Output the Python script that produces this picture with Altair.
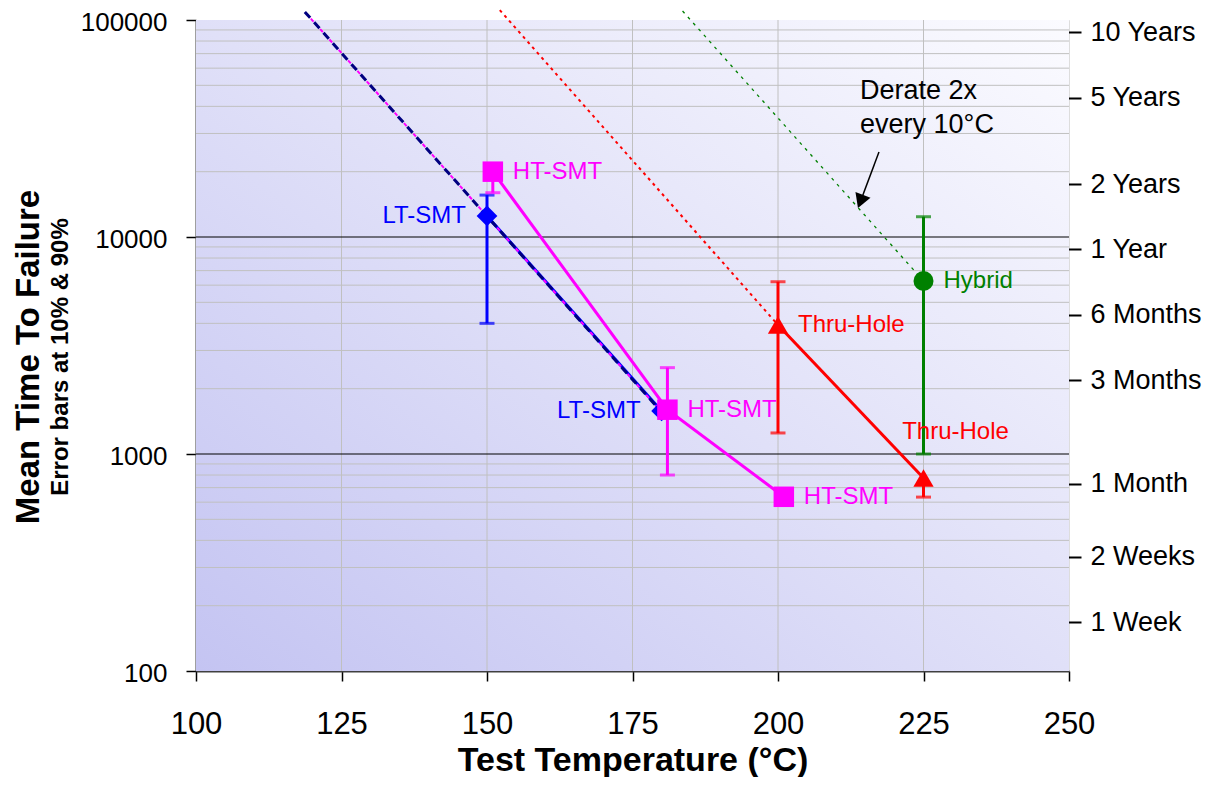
import altair as alt
import pandas as pd

FONT = "Liberation Sans"

# ---------------- data ----------------
series_names = ["LT-SMT", "HT-SMT", "Thru-Hole", "Hybrid"]
series_colors = ["#0000FF", "#FF00FF", "#FF0000", "#008000"]
series_shapes = ["diamond", "square", "triangle-up", "circle"]
series_sizes = [430, 400, 440, 350]

pt_series = ["LT-SMT", "LT-SMT", "HT-SMT", "HT-SMT", "HT-SMT", "Thru-Hole", "Thru-Hole", "Hybrid"]
pt_temp = [150, 180, 151, 181, 201, 200, 225, 225]
pt_mttf = [12500, 1580, 20000, 1600, 635, 3930, 775, 6270]

err_series = ["LT-SMT", "HT-SMT", "HT-SMT", "Thru-Hole", "Thru-Hole", "Hybrid"]
err_temp = [150, 151, 181, 200, 225, 225]
err_low = [4000, 16000, 800, 1250, 633, 1000]
err_high = [15600, 20000, 2500, 6220, 775, 12400]

cap_series = ["LT-SMT", "LT-SMT", "HT-SMT", "HT-SMT", "HT-SMT",
              "Thru-Hole", "Thru-Hole", "Thru-Hole", "Hybrid", "Hybrid"]
cap_temp = [150, 150, 151, 181, 181, 200, 200, 225, 225, 225]
cap_value = [4000, 15600, 16000, 800, 2500, 1250, 6220, 633, 1000, 12400]

# point labels
labR_text = ["HT-SMT", "HT-SMT", "HT-SMT", "Thru-Hole", "Hybrid"]
labR_series = ["HT-SMT", "HT-SMT", "HT-SMT", "Thru-Hole", "Hybrid"]
labR_temp = [151, 181, 201, 200, 225]
labR_mttf = [20000, 1600, 635, 3930, 6270]

labL_text = ["LT-SMT", "LT-SMT"]
labL_series = ["LT-SMT", "LT-SMT"]
labL_temp = [150, 180]
labL_mttf = [12500, 1580]

labA_text = ["Thru-Hole"]
labA_series = ["Thru-Hole"]
labA_temp = [225]
labA_mttf = [775]

# "derate 2x every 10 C" guide lines (end points)
derate_lt_temp = [118.7, 180]
derate_lt_mttf = [109000, 1560]
derate_th_temp = [152.2, 200]
derate_th_mttf = [111000, 3930]
derate_hy_temp = [183.6, 225]
derate_hy_mttf = [110000, 6270]

# annotation
note_lines = ["Derate 2x", "every 10°C"]
note_temp = [214.1, 214.1]
note_mttf = [43300, 30100]
arrow_temp = [217.35, 214.17]
arrow_mttf = [24650, 14580]

# axes
x_ticks = [100, 125, 150, 175, 200, 225, 250]
y_ticks = [100, 1000, 10000, 100000]
v_grid = [125, 150, 175, 200, 225]
h_grid_major = [1000, 10000]
h_grid_minor = [m * d for d in (100, 1000, 10000) for m in range(2, 10)]
right_values = [87600, 43800, 17520, 8760, 4380, 2190, 730, 336, 168]
right_labels = ["10 Years", "5 Years", "2 Years", "1 Year", "6 Months",
                "3 Months", "1 Month", "2 Weeks", "1 Week"]

title_main = "Mean Time To Failure"
title_sub = "Error bars at 10% & 90%"
x_title = "Test Temperature (°C)"

# ---------------- scales / axes ----------------
X_SCALE = alt.Scale(domain=[100, 250], nice=False, zero=False)
Y_SCALE = alt.Scale(type="log", domain=[100, 100000], nice=False)

x_axis = alt.Axis(values=x_ticks, title=x_title, titleFont=FONT, titleFontSize=34,
                  titleFontWeight="bold", titleColor="black", titleY=99,
                  titleBaseline="alphabetic",
                  labelFont=FONT, labelFontSize=31, labelColor="black",
                  labelBaseline="alphabetic", labelPadding=52, labelFlush=False,
                  labelOverlap=False, tickSize=10, tickColor="black", tickWidth=1.5,
                  domainColor="#404040", domainWidth=2, grid=False)
y_axis = alt.Axis(values=y_ticks, format="d", title=None, labelFont=FONT,
                  labelFontSize=26, labelColor="black", labelPadding=19, labelOffset=2,
                  labelFlush=False, labelOverlap=False, tickSize=10,
                  tickColor="black", tickWidth=1.5, domainColor="#404040",
                  domainWidth=2, grid=False)


def X(field):
    return alt.X(field, type="quantitative", scale=X_SCALE, axis=x_axis)


def Y(field):
    return alt.Y(field, type="quantitative", scale=Y_SCALE, axis=y_axis)


COLOR = alt.Color("series:N", scale=alt.Scale(domain=series_names, range=series_colors),
                  legend=None)

# ---------------- data frames ----------------
pts = pd.DataFrame({"series": pt_series, "temp": pt_temp, "mttf": pt_mttf})
errs = pd.DataFrame({"series": err_series, "temp": err_temp, "lo": err_low, "hi": err_high})
caps = pd.DataFrame({"series": cap_series, "temp": cap_temp, "v": cap_value})
labR = pd.DataFrame({"label": labR_text, "series": labR_series, "temp": labR_temp, "mttf": labR_mttf})
labL = pd.DataFrame({"label": labL_text, "series": labL_series, "temp": labL_temp, "mttf": labL_mttf})
labA = pd.DataFrame({"label": labA_text, "series": labA_series, "temp": labA_temp, "mttf": labA_mttf})
d_lt = pd.DataFrame({"temp": derate_lt_temp, "mttf": derate_lt_mttf})
d_th = pd.DataFrame({"temp": derate_th_temp, "mttf": derate_th_mttf})
d_hy = pd.DataFrame({"temp": derate_hy_temp, "mttf": derate_hy_mttf})
notes = pd.DataFrame({"txt": note_lines, "temp": note_temp, "mttf": note_mttf})
arrow = pd.DataFrame({"temp": arrow_temp, "mttf": arrow_mttf, "o": [0, 1]})
arrow_head = arrow.iloc[[1]]
one = pd.DataFrame({"a": [0]})

# ---------------- layers ----------------
bg = alt.Chart(one).mark_rect(
    fill=alt.Gradient(gradient="linear", x1=0, y1=1, x2=1, y2=0,
                      stops=[alt.GradientStop(color="#c4c4f2", offset=0),
                             alt.GradientStop(color="#e0e0f8", offset=0.5),
                             alt.GradientStop(color="#fbfbff", offset=1)])
).encode(x=alt.value(0), x2=alt.value(873), y=alt.value(0), y2=alt.value(651))

vgrid = alt.Chart(pd.DataFrame({"temp": v_grid})).mark_rule(
    color="#c0c0c0", strokeWidth=1).encode(x=X("temp"))
hminor = alt.Chart(pd.DataFrame({"mttf": h_grid_minor})).mark_rule(
    color="#c0c0c0", strokeWidth=1).encode(y=Y("mttf"))
hmajor = alt.Chart(pd.DataFrame({"mttf": h_grid_major})).mark_rule(
    color="#000000", strokeWidth=1).encode(y=Y("mttf"))

series_lines = alt.Chart(pts).mark_line(strokeWidth=3).encode(
    x=X("temp"), y=Y("mttf"), color=COLOR, detail="series:N", order="temp:Q")

derate1 = alt.Chart(d_lt).mark_line(color="#000080", strokeWidth=3, strokeDash=[8, 6]).encode(
    x=X("temp"), y=Y("mttf"))
derate1b = alt.Chart(d_lt).mark_line(color="#FF00FF", strokeWidth=2, strokeDash=[4, 10],
                                     strokeDashOffset=-9).encode(x=X("temp"), y=Y("mttf"))
derate2 = alt.Chart(d_th).mark_line(color="#FF0000", strokeWidth=2, strokeDash=[3, 4]).encode(
    x=X("temp"), y=Y("mttf"))
derate3 = alt.Chart(d_hy).mark_line(color="#008000", strokeWidth=1.3, strokeDash=[3, 5]).encode(
    x=X("temp"), y=Y("mttf"))

err_rules = alt.Chart(errs).mark_rule(strokeWidth=3).encode(
    x=X("temp"), y=Y("lo"), y2="hi:Q", color=COLOR)
err_caps = alt.Chart(caps).mark_tick(orient="horizontal", size=15, thickness=3).encode(
    x=X("temp"), y=Y("v"), color=COLOR)

points = alt.Chart(pts).mark_point(filled=True, opacity=1).encode(
    x=X("temp"), y=Y("mttf"), color=COLOR,
    shape=alt.Shape("series:N", scale=alt.Scale(domain=series_names, range=series_shapes), legend=None),
    size=alt.Size("series:N", scale=alt.Scale(domain=series_names, range=series_sizes), legend=None))

txt_r = alt.Chart(labR).mark_text(align="left", baseline="middle", dx=20, font=FONT, fontSize=24).encode(
    x=X("temp"), y=Y("mttf"), text="label:N", color=COLOR)
txt_l = alt.Chart(labL).mark_text(align="right", baseline="middle", dx=-21, font=FONT, fontSize=24).encode(
    x=X("temp"), y=Y("mttf"), text="label:N", color=COLOR)
txt_a = alt.Chart(labA).mark_text(align="center", baseline="middle", dx=32, dy=-46, font=FONT, fontSize=24).encode(
    x=X("temp"), y=Y("mttf"), text="label:N", color=COLOR)

note_txt = alt.Chart(notes).mark_text(align="left", baseline="alphabetic", font=FONT,
                                      fontSize=27, color="black").encode(
    x=X("temp"), y=Y("mttf"), text="txt:N")
arrow_line = alt.Chart(arrow).mark_line(color="black", strokeWidth=1.5).encode(
    x=X("temp"), y=Y("mttf"), order="o:Q")
arrow_tip = alt.Chart(arrow_head).mark_point(shape="triangle-up", angle=201, size=260,
                                              filled=True, opacity=1, color="black").encode(
    x=X("temp"), y=Y("mttf"))

ttl_main = alt.Chart(pd.DataFrame({"t": [title_main]})).mark_text(
    angle=270, align="center", baseline="middle", font=FONT, fontSize=33,
    fontWeight="bold", color="black").encode(x=alt.value(-167), y=alt.value(337), text="t:N")
ttl_sub = alt.Chart(pd.DataFrame({"t": [title_sub]})).mark_text(
    angle=270, align="center", baseline="middle", font=FONT, fontSize=24,
    fontWeight="bold", color="black").encode(x=alt.value(-135), y=alt.value(337), text="t:N")

inner = alt.layer(bg, vgrid, hminor, hmajor, series_lines, derate1, derate1b, derate2, derate3,
                  err_rules, err_caps, points, txt_r, txt_l, txt_a, note_txt, arrow_line,
                  arrow_tip, ttl_main, ttl_sub)

label_expr = "[" + ",".join("'%s'" % s for s in right_labels) + "][indexof([" + \
    ",".join(str(v) for v in right_values) + "], datum.value)]"

right_axis = alt.Axis(orient="right", values=right_values, labelExpr=label_expr, title=None,
                      labelFont=FONT, labelFontSize=27, labelColor="black", labelPadding=9,
                      labelFlush=False, labelOverlap=False, tickSize=22, tickColor="black",
                      tickWidth=2, offset=-10, domain=False, grid=False)
right = alt.Chart(pd.DataFrame({"h": right_values})).mark_point(opacity=0).encode(
    y=alt.Y("h:Q", scale=Y_SCALE, axis=right_axis))

chart = alt.layer(inner, right).resolve_scale(y="independent").properties(
    width=873, height=651,
    autosize=alt.AutoSizeParams(type="none"),
    padding={"left": 188, "top": 12, "right": 134, "bottom": 106},
).configure_view(stroke="#808080", strokeWidth=2).configure(background="white", font=FONT)

chart.save("out.html", embed_options={"renderer": "svg", "actions": False})
